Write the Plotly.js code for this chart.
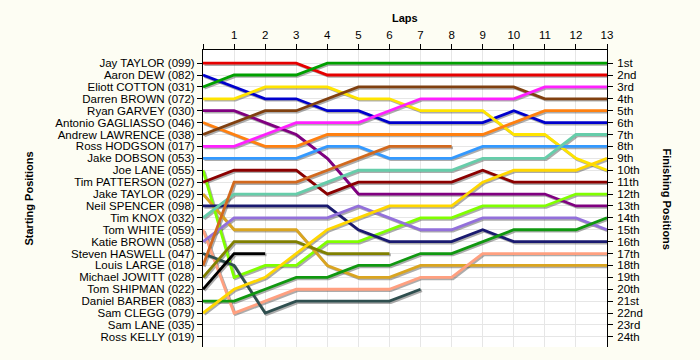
<!DOCTYPE html>
<html>
<head>
<meta charset="utf-8">
<script src="https://cdn.plot.ly/plotly-3.0.1.min.js"></script>
<style>html,body{margin:0;padding:0;background:#FDFDF3;}#chart{width:700px;height:360px;}</style>
</head>
<body>
<div id="chart"></div>
<script>
// ---- data ----
const laps = [0,1,2,3,4,5,6,7,8,9,10,11,12,13];
const lapLabels = ["","1","2","3","4","5","6","7","8","9","10","11","12","13"];
const startingNames = [
  "Jay TAYLOR (099)","Aaron DEW (082)","Eliott COTTON (031)","Darren BROWN (072)",
  "Ryan GARVEY (030)","Antonio GAGLIASSO (046)","Andrew LAWRENCE (038)","Ross HODGSON (017)",
  "Jake DOBSON (053)","Joe LANE (055)","Tim PATTERSON (027)","Jake TAYLOR (029)",
  "Neil SPENCER (098)","Tim KNOX (032)","Tom WHITE (059)","Katie BROWN (058)",
  "Steven HASWELL (047)","Louis LARGE (018)","Michael JOWITT (028)","Tom SHIPMAN (022)",
  "Daniel BARBER (083)","Sam CLEGG (079)","Sam LANE (035)","Ross KELLY (019)"
];
const finishingLabels = ["1st","2nd","3rd","4th","5th","6th","7th","8th","9th","10th","11th","12th",
  "13th","14th","15th","16th","17th","18th","19th","20th","21st","22nd","23rd","24th"];
const gridPositions = [1,2,3,4,5,6,7,8,9,10,11,12,13,14,15,16,17,18,19,20,21,22,23,24];

// position at each lap (lap 0 = grid)
const jayTaylor      = [1,1,1,1,2,2,2,2,2,2,2,2,2,2];
const aaronDew       = [2,3,4,4,5,5,6,6,6,6,5,6,6,6];
const eliottCotton   = [3,2,2,2,1,1,1,1,1,1,1,1,1,1];
const darrenBrown    = [4,4,3,3,3,4,4,5,5,5,7,7,9,10];
const ryanGarvey     = [5,5,6,7,9,12,12,12,12,12,12,12,13,13];
const antonioGagliasso = [6,7,8,8,7,7,7,7,7,7,6,5,5,5];
const andrewLawrence = [7,6,5,5,4,3,3,3,3,3,3,4,4,4];
const rossHodgson    = [8,8,7,6,6,6,5,4,4,4,4,3,3,3];
const jakeDobson     = [9,9,9,9,8,8,9,9,9,8,8,8,8,8];
const joeLane        = [10,19,18,18,16,16,15,14,14,13,13,13,12,12];
const timPatterson   = [11,10,10,10,12,11,11,11,11,10,11,11,11,11];
const jakeTaylor     = [12,15,15,15,18,19,19,18,18,18,18,18,18,18];
const neilSpencer    = [13,13,13,13,13,15,16,16,16,15,16,16,16,16];
const timKnox        = [14,12,12,12,11,10,10,10,10,9,9,9,7,7];
const tomWhite       = [15,22,21,20,20,20,20,19,19,17,17,17,17,17];
const katieBrown     = [16,14,14,14,14,13,14,15,15,14,14,14,14,15];
const stevenHaswell  = [17,18,22,21,21,21,21,20];
const louisLarge     = [18,11,11,11,10,9,8,8,8];
const michaelJowitt  = [19,16,16,16,17,17,17];
const tomShipman     = [20,17,17];
const danielBarber   = [21,21,20,19,19,18,18,17,17,16,15,15,15,14];
const samClegg       = [22,20,19,17,15,14,13,13,13,11,10,10,10,9];

const driverSeries = [jayTaylor, aaronDew, eliottCotton, darrenBrown, ryanGarvey, antonioGagliasso,
  andrewLawrence, rossHodgson, jakeDobson, joeLane, timPatterson, jakeTaylor, neilSpencer, timKnox,
  tomWhite, katieBrown, stevenHaswell, louisLarge, michaelJowitt, tomShipman, danielBarber, samClegg];

// ---- styles ----
const driverColors = ["#E60000","#0000CC","#00A000","#FFE400","#800080","#FF8010",
  "#804010","#FF20FF","#3399FF","#80FF00","#8B0000","#DAA520","#1A1A70","#66CDAA",
  "#FFA080","#9370DB","#2F4F4F","#D2691E","#808000","#000000","#109810","#FFD700"];

const shadowTraces = driverSeries.map((s, i) => ({
  x: laps.slice(0, s.length), y: s, xaxis: 'x', yaxis: 'y',
  mode: 'lines', line: {color: 'rgba(70,70,70,0.45)', width: 2.8},
  hoverinfo: 'skip', showlegend: false
}));
const mainTraces = driverSeries.map((s, i) => ({
  x: laps.slice(0, s.length), y: s, xaxis: 'x2', yaxis: 'y2',
  name: startingNames[i],
  mode: 'lines', line: {color: driverColors[i], width: 2.8},
  showlegend: false
}));

const FONT = 'Liberation Sans, Arial, sans-serif';
const TICKSIZE = 11.5;
// pixel shift for shadows
const plotW = 404, plotH = 297;
const yTop = -0.1, yBot = 24.85;
const dx = 1.4 * 13 / plotW;
const dy = 1.4 * (yBot - yTop) / plotH;

const layout = {
  width: 700, height: 360,
  margin: {l: 203, r: 93, t: 50, b: 13, pad: 0},
  paper_bgcolor: '#FDFDF3', plot_bgcolor: '#FFFFFF',
  showlegend: false,
  font: {family: FONT, size: 11, color: '#000'},
  xaxis: {range: [0 - dx, 13 - dx], visible: false, fixedrange: true},
  yaxis: {range: [yBot - dy, yTop - dy], visible: false, fixedrange: true},
  xaxis2: {overlaying: 'x', anchor: 'y2', side: 'top', range: [0, 13],
    tickmode: 'array', tickvals: laps, ticktext: lapLabels,
    ticks: 'outside', ticklen: 5, tickcolor: '#000', showline: true, linecolor: '#000', linewidth: 1,
    showgrid: true, gridcolor: '#E6E6E6', gridwidth: 1, zeroline: false,
    tickfont: {family: FONT, size: TICKSIZE, color: '#000'}},
  yaxis2: {overlaying: 'y', anchor: 'x2', side: 'left', range: [yBot, yTop],
    tickmode: 'array', tickvals: gridPositions, ticktext: startingNames,
    ticks: 'outside', ticklen: 5, tickcolor: '#000', showline: true, linecolor: '#000', linewidth: 1,
    showgrid: true, gridcolor: '#E6E6E6', gridwidth: 1, zeroline: false,
    tickfont: {family: FONT, size: TICKSIZE, color: '#000'}},
  yaxis3: {overlaying: 'y', anchor: 'x2', side: 'right', range: [yBot, yTop],
    tickmode: 'array', tickvals: gridPositions, ticktext: finishingLabels,
    ticks: 'outside', ticklen: 5, tickcolor: '#000', showline: true, linecolor: '#000', linewidth: 1,
    showgrid: false, zeroline: false, ticklabelstandoff: 2,
    tickfont: {family: FONT, size: TICKSIZE, color: '#000'}},
  annotations: [
    {text: 'Laps', xref: 'paper', yref: 'paper', x: 0.5, y: (347 - 18) / plotH,
     xanchor: 'center', yanchor: 'middle', showarrow: false,
     font: {family: FONT, size: 11, weight: 'bold', color: '#000'}},
    {text: 'Starting Positions', xref: 'paper', yref: 'paper', x: (28 - 203) / plotW, y: 0.5,
     xanchor: 'center', yanchor: 'middle', textangle: -90, showarrow: false,
     font: {family: FONT, size: 11, weight: 'bold', color: '#000'}},
    {text: 'Finishing Positions', xref: 'paper', yref: 'paper', x: (667 - 203) / plotW, y: 0.5,
     xanchor: 'center', yanchor: 'middle', textangle: 90, showarrow: false,
     font: {family: FONT, size: 11, weight: 'bold', color: '#000'}}
  ]
};

const anchorTrace = {x: laps.slice(-1), y: gridPositions.slice(0, 1), xaxis: 'x2', yaxis: 'y3',
  mode: 'none', hoverinfo: 'skip', showlegend: false};

Plotly.newPlot('chart', shadowTraces.concat(mainTraces, [anchorTrace]), layout,
  {displayModeBar: false, staticPlot: true});
</script>
</body>
</html>
